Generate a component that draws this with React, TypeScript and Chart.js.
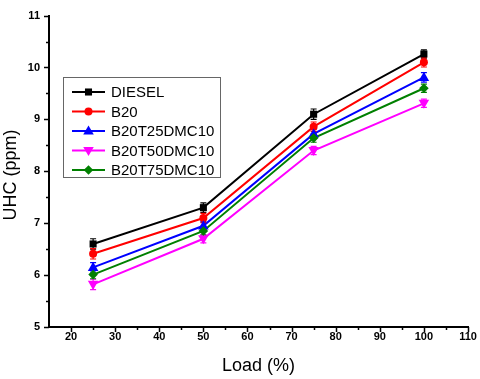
import React, { useEffect, useRef } from "react";
import { Chart, registerables } from "chart.js";

Chart.register(...registerables);

const loads = [25, 50, 75, 100];
const seriesNames = ["DIESEL", "B20", "B20T25DMC10", "B20T50DMC10", "B20T75DMC10"];
const diesel = [6.6, 7.3, 9.1, 10.26];
const b20 = [6.41, 7.1, 8.86, 10.1];
const b20t25 = [6.15, 6.95, 8.72, 9.81];
const b20t50 = [5.82, 6.7, 8.4, 9.31];
const b20t75 = [6.01, 6.85, 8.64, 9.6];
const errDiesel = [0.1, 0.09, 0.1, 0.08];
const errB20 = [0.1, 0.09, 0.09, 0.09];
const errB20t25 = [0.09, 0.08, 0.09, 0.09];
const errB20t50 = [0.1, 0.08, 0.08, 0.08];
const errB20t75 = [0.08, 0.08, 0.08, 0.08];
const xTickValues = [20, 30, 40, 50, 60, 70, 80, 90, 100, 110];
const xMinorValues = [25, 35, 45, 55, 65, 75, 85, 95, 105];
const yTickValues = [5, 6, 7, 8, 9, 10, 11];
const yMinorValues = [5.5, 6.5, 7.5, 8.5, 9.5, 10.5];

const colors = ["#000000", "#ff0000", "#0000ff", "#ff00ff", "#008000"];
const styles = ["rect", "circle", "triangle", "triangle", "rectRot"];
const rotations = [0, 0, 0, 180, 0];
const radii = [5, 4, 4.8, 4.8, 4.8];

const FONT = "'Liberation Sans', Arial, sans-serif";

function drawMarker(ctx: CanvasRenderingContext2D, style: string, rot: number, r: number, x: number, y: number, color: string) {
  ctx.save();
  ctx.fillStyle = color;
  ctx.strokeStyle = color;
  ctx.translate(x, y);
  ctx.rotate((rot * Math.PI) / 180);
  ctx.beginPath();
  if (style === "rect") {
    const s = r * Math.SQRT1_2;
    ctx.rect(-s, -s, 2 * s, 2 * s);
  } else if (style === "circle") {
    ctx.arc(0, 0, r, 0, Math.PI * 2);
  } else if (style === "triangle") {
    const s = r * 1.0;
    ctx.moveTo(0, -s * 1.15);
    ctx.lineTo(s * 1.1, s * 0.75);
    ctx.lineTo(-s * 1.1, s * 0.75);
    ctx.closePath();
  } else if (style === "rectRot") {
    ctx.moveTo(0, -r);
    ctx.lineTo(r, 0);
    ctx.lineTo(0, r);
    ctx.lineTo(-r, 0);
    ctx.closePath();
  }
  ctx.fill();
  ctx.restore();
}

export default function App() {
  const ref = useRef<HTMLCanvasElement>(null);
  useEffect(() => {
    if (!ref.current) return;
    const values = [diesel, b20, b20t25, b20t50, b20t75];
    const errs = [errDiesel, errB20, errB20t25, errB20t50, errB20t75];

    const overlay = {
      id: "overlay",
      afterDatasetsDraw(chart: any) {
        const ctx = chart.ctx as CanvasRenderingContext2D;
        const xs = chart.scales.x;
        const ys = chart.scales.y;
        chart.data.datasets.forEach((ds: any, di: number) => {
          ctx.save();
          ctx.strokeStyle = colors[di];
          ctx.lineWidth = 1.2;
          values[di].forEach((v, i) => {
            const px = xs.getPixelForValue(loads[i]);
            const top = ys.getPixelForValue(v + errs[di][i]);
            const bot = ys.getPixelForValue(v - errs[di][i]);
            ctx.beginPath();
            ctx.moveTo(px, top);
            ctx.lineTo(px, bot);
            ctx.moveTo(px - 3, top);
            ctx.lineTo(px + 3, top);
            ctx.moveTo(px - 3, bot);
            ctx.lineTo(px + 3, bot);
            ctx.stroke();
          });
          ctx.restore();
        });
        chart.data.datasets.forEach((ds: any, di: number) => {
          values[di].forEach((v, i) => {
            drawMarker(ctx, styles[di], rotations[di], radii[di], xs.getPixelForValue(loads[i]), ys.getPixelForValue(v), colors[di]);
          });
        });
      },
      afterDraw(chart: any) {
        const ctx = chart.ctx as CanvasRenderingContext2D;
        const xs = chart.scales.x;
        const ys = chart.scales.y;
        const area = chart.chartArea;
        ctx.save();
        ctx.strokeStyle = "#000";
        ctx.lineWidth = 1.5;
        xTickValues.forEach((v) => {
          const px = Math.round(xs.getPixelForValue(v)) + 0.5;
          ctx.beginPath();
          ctx.moveTo(px, area.bottom);
          ctx.lineTo(px, area.bottom + 5);
          ctx.stroke();
        });
        xMinorValues.forEach((v) => {
          const px = Math.round(xs.getPixelForValue(v)) + 0.5;
          ctx.beginPath();
          ctx.moveTo(px, area.bottom);
          ctx.lineTo(px, area.bottom + 3);
          ctx.stroke();
        });
        yTickValues.forEach((v) => {
          const py = Math.round(ys.getPixelForValue(v)) + 0.5;
          ctx.beginPath();
          ctx.moveTo(area.left, py);
          ctx.lineTo(area.left - 5, py);
          ctx.stroke();
        });
        yMinorValues.forEach((v) => {
          const py = Math.round(ys.getPixelForValue(v)) + 0.5;
          ctx.beginPath();
          ctx.moveTo(area.left, py);
          ctx.lineTo(area.left - 3, py);
          ctx.stroke();
        });
        ctx.fillStyle = "#000";
        ctx.font = `18px ${FONT}`;
        ctx.textAlign = "center";
        ctx.textBaseline = "middle";
        ctx.fillText("Load (%)", (area.left + area.right) / 2, 366);
        ctx.save();
        ctx.translate(11, 175);
        ctx.rotate(-Math.PI / 2);
        ctx.font = `18px ${FONT}`;
        ctx.fillText("UHC (ppm)", 0, 0);
        ctx.restore();
        const bx = 63.5, by = 77.5, bw = 157, bh = 100;
        ctx.fillStyle = "#fff";
        ctx.fillRect(bx, by, bw, bh);
        ctx.strokeStyle = "#666";
        ctx.lineWidth = 1;
        ctx.strokeRect(bx, by, bw, bh);
        ctx.font = `15px ${FONT}`;
        ctx.textAlign = "left";
        ctx.textBaseline = "middle";
        seriesNames.forEach((name, i) => {
          const ry = 92 + i * 19.5;
          ctx.strokeStyle = colors[i];
          ctx.lineWidth = 2;
          ctx.beginPath();
          ctx.moveTo(72, ry);
          ctx.lineTo(105, ry);
          ctx.stroke();
          drawMarker(ctx, styles[i], rotations[i], radii[i], 88.5, ry, colors[i]);
          ctx.fillStyle = "#000";
          ctx.fillText(name, 111, ry + 1);
        });
        ctx.restore();
      },
    };

    const chart = new Chart(ref.current, {
      type: "line",
      data: {
        datasets: seriesNames.map((name, di) => ({
          label: name,
          data: loads.map((x, i) => ({ x, y: values[di][i] })),
          borderColor: colors[di],
          backgroundColor: colors[di],
          borderWidth: 2,
          pointRadius: 0,
          tension: 0,
        })),
      },
      options: {
        animation: false,
        responsive: false,
        layout: { padding: { top: 7, right: 12, left: 0, bottom: 0 } },
        plugins: { legend: { display: false }, tooltip: { enabled: false }, title: { display: false } },
        scales: {
          x: {
            type: "linear",
            min: 15,
            max: 110,
            afterBuildTicks: (scale: any) => {
              scale.ticks = xTickValues.map((v) => ({ value: v }));
            },
            afterFit: (scale: any) => {
              scale.height = 52;
            },
            grid: { display: false, drawTicks: false },
            border: { display: true, color: "#000", width: 2 },
            ticks: {
              padding: 3,
              color: "#000",
              maxRotation: 0,
              autoSkip: false,
              font: { family: FONT, size: 11, weight: "bold" },
            },
          },
          y: {
            type: "linear",
            min: 5,
            max: 11,
            afterBuildTicks: (scale: any) => {
              scale.ticks = yTickValues.map((v) => ({ value: v }));
            },
            afterFit: (scale: any) => {
              scale.width = 49;
            },
            grid: { display: false, drawTicks: false },
            border: { display: true, color: "#000", width: 2 },
            ticks: {
              padding: 9,
              color: "#000",
              autoSkip: false,
              font: { family: FONT, size: 11, weight: "bold" },
            },
          },
        },
      },
      plugins: [overlay],
    } as any);
    return () => chart.destroy();
  }, []);
  return (
    <div style={{ position: "fixed", left: 0, top: 0, width: 480, height: 379, background: "#fff" }}>
      <canvas ref={ref} width={480} height={379} />
    </div>
  );
}
